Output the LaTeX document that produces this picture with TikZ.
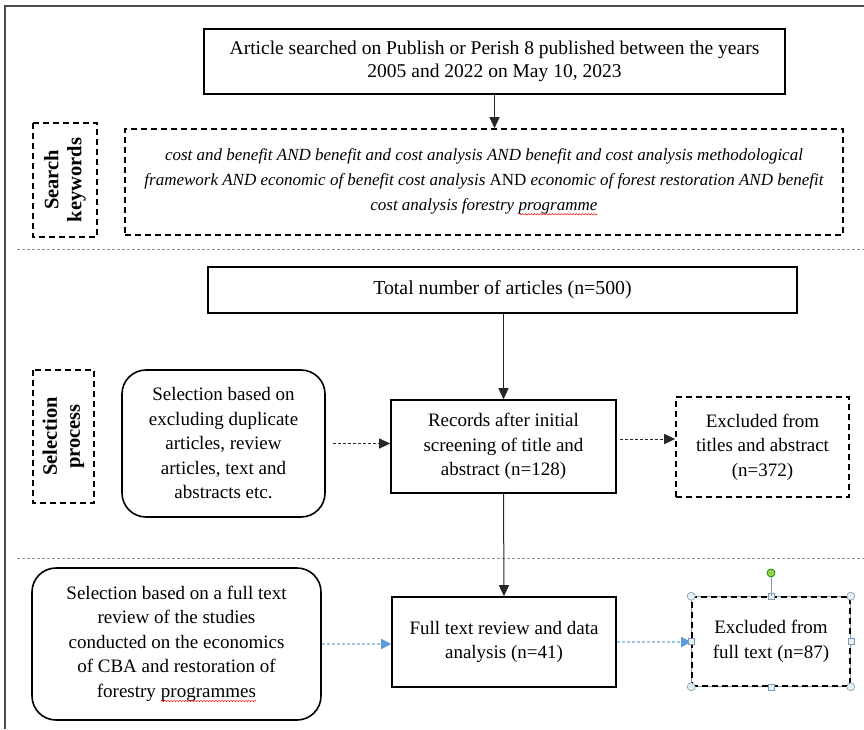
\documentclass[tikz,border=0pt]{standalone}
\usepackage{fontspec}
\setmainfont{Liberation Serif}
\usepackage{tikz}
\usetikzlibrary{arrows.meta, positioning, backgrounds, decorations.pathmorphing}
\usepackage{xcolor}
\definecolor{arrowblue}{HTML}{5B9BD5}
\definecolor{lineblue}{HTML}{9DC3E6}
\definecolor{handlegray}{HTML}{8497B0}
\definecolor{handlefill}{HTML}{E2F0F3}
\definecolor{rotgreen}{HTML}{92D050}

\newcommand{\spellmark}[1]{\tikz[baseline=(w.base)]{\node[shape=rectangle, draw=none, inner sep=0pt, outer sep=0pt, minimum width=0pt, minimum height=0pt, rotate=0, rounded corners=0pt] (w) {#1};\draw[red, solid, sharp corners, line width=0.5pt, decorate, decoration={snake, amplitude=0.7pt, segment length=3pt}] ([yshift=-3.5pt]w.base west) -- ([yshift=-3.5pt]w.base east);}}

\begin{document}
\begin{tikzpicture}
                        \tikzset{Box/.style={%
                                shape=rectangle,%
                                draw=black,%
                                line width=1.6pt,%
                                inner sep=0pt,%
                                align=center,%
                                font=\fontsize{19}{24.5}\selectfont,%
                            }}
                        \tikzset{DashBox/.style={%
                                Box,%
                                dash pattern=on 6pt off 4pt,%
                            }}
                        \tikzset{RoundBox/.style={%
                                Box,%
                                rounded corners=24pt,%
                            }}
                        \tikzset{Label/.style={%
                                DashBox,%
                                rotate=90,%
                                font=\fontsize{20.5}{23}\selectfont\bfseries,%
                            }}
                        \tikzset{Arrow/.style={%
                                -{Triangle[length=11pt,width=10pt]},%
                                draw=black!85,%
                                line width=1pt,%
                            }}
                        \tikzset{DashArrow/.style={%
                                Arrow,%
                                dash pattern=on 3pt off 2pt,%
                            }}
                        \tikzset{BlueArrow/.style={%
                                -{Triangle[length=10pt,width=10pt,color=arrowblue]},%
                                draw=lineblue,%
                                line width=1.5pt,%
                                dash pattern=on 3pt off 2pt,%
                            }}
                        \tikzset{SepLine/.style={%
                                draw=gray!85,%
                                line width=1pt,%
                                dash pattern=on 3pt off 2pt,%
                            }}
                        \tikzset{Handle/.style={%
                                shape=circle,%
                                draw=handlegray,%
                                fill=handlefill,%
                                line width=0.6pt,%
                                minimum size=8pt,%
                                inner sep=0pt,%
                            }}
                        \tikzset{HandleSq/.style={%
                                Handle,%
                                shape=rectangle,%
                                minimum size=6pt,%
                            }}

                            \useasboundingbox (0,0) rectangle (864pt,-729pt);
                            \draw[draw=black!70, line width=1.5pt] (5pt,-729pt) -- (5pt,-6pt) -- (864pt,-6pt);
                            \draw[SepLine] (17pt,-249pt) -- (864pt,-249pt);
                            \draw[SepLine] (17pt,-558pt) -- (864pt,-558pt);

                            \node[Box, minimum width=581pt, minimum height=65pt, font=\fontsize{19.5}{23.5}\selectfont] (1) at (494.5pt,-61.5pt) {Article searched on Publish or Perish 8 published between the years\\2005 and 2022 on May 10, 2023};
                            \node[DashBox, minimum width=718pt, minimum height=106pt, below of=1, node distance=120.5pt, xshift=-10.5pt, font=\fontsize{17}{25}\selectfont\itshape] (2) {cost and benefit AND benefit and cost analysis AND benefit and cost analysis methodological\\framework AND economic of benefit cost analysis {\upshape AND} economic of forest restoration AND benefit\\cost analysis forestry \spellmark{programme}};
                            \node[Label, minimum width=114pt, minimum height=64pt] (3) at (65pt,-180pt) {Search\\keywords};
                            \node[Box, minimum width=589pt, minimum height=46pt, below of=2, node distance=108pt, xshift=18.5pt, font=\fontsize{19.8}{24}\selectfont] (4) {Total number of articles (n=500)};
                            \node[Box, minimum width=225pt, minimum height=93pt, below of=4, node distance=156.5pt, xshift=1pt] (5) {Records after initial\\screening of title and\\abstract (n=128)};
                            \node[RoundBox, minimum width=203pt, minimum height=147pt, left of=5, node distance=280pt, yshift=3pt] (6) {Selection based on\\excluding duplicate\\articles, review\\articles, text and\\abstracts etc.};
                            \node[Label, minimum width=133pt, minimum height=61pt] (7) at (63.5pt,-436.5pt) {Selection\\process};
                            \node[DashBox, minimum width=173pt, minimum height=100pt, right of=5, node distance=259pt, yshift=-0.5pt] (8) {Excluded from\\titles and abstract\\(n=372)};
                            \node[Box, minimum width=224pt, minimum height=90pt, below of=5, node distance=195.5pt, xshift=0.5pt] (9) {Full text review and data\\analysis (n=41)};
                            \node[RoundBox, minimum width=289pt, minimum height=152pt, left of=9, node distance=327.5pt, yshift=-2pt] (10) {Selection based on a full text\\review of the studies\\conducted on the economics\\of CBA and restoration of\\forestry \spellmark{programmes}};
                            \node[DashBox, minimum width=158pt, minimum height=89pt, right of=9, node distance=267pt, yshift=0.5pt] (11) {Excluded from\\full text (n=87)};

                            \path (1.south) edge[Arrow] (1.south |- 2.north);
                            \path (5 |- 4.south) edge[Arrow] (5.north);
                            \path (6.east) edge[DashArrow, shorten <=7pt] (6.east -| 5.west);
                            \path ([yshift=7.5pt]5.east) edge[DashArrow, shorten <=3pt] ([yshift=7.5pt]5.east -| 8.west);
                            \path (5.south) edge[Arrow] (9.north);
                            \path (10.east) edge[BlueArrow] (10.east -| 9.west);
                            \path (9.east) edge[BlueArrow] (9.east -| 11.west);

                            \begin{scope}[on background layer]
                                \draw[draw=handlegray, line width=0.8pt] (11.north west) rectangle (11.south east);
                            \end{scope}
                            \foreach \a in {north west, north east, south west, south east}
                                \node[Handle] at (11.\a) {};
                            \foreach \a in {north, south, east, west}
                                \node[HandleSq] at (11.\a) {};
                            \node[Handle, fill=rotgreen, draw=green!45!black, above=19pt of 11.north] (12) {};
                            \path (12) edge[draw=handlegray, line width=0.8pt] (11.north);
                    \end{tikzpicture}
\end{document}
